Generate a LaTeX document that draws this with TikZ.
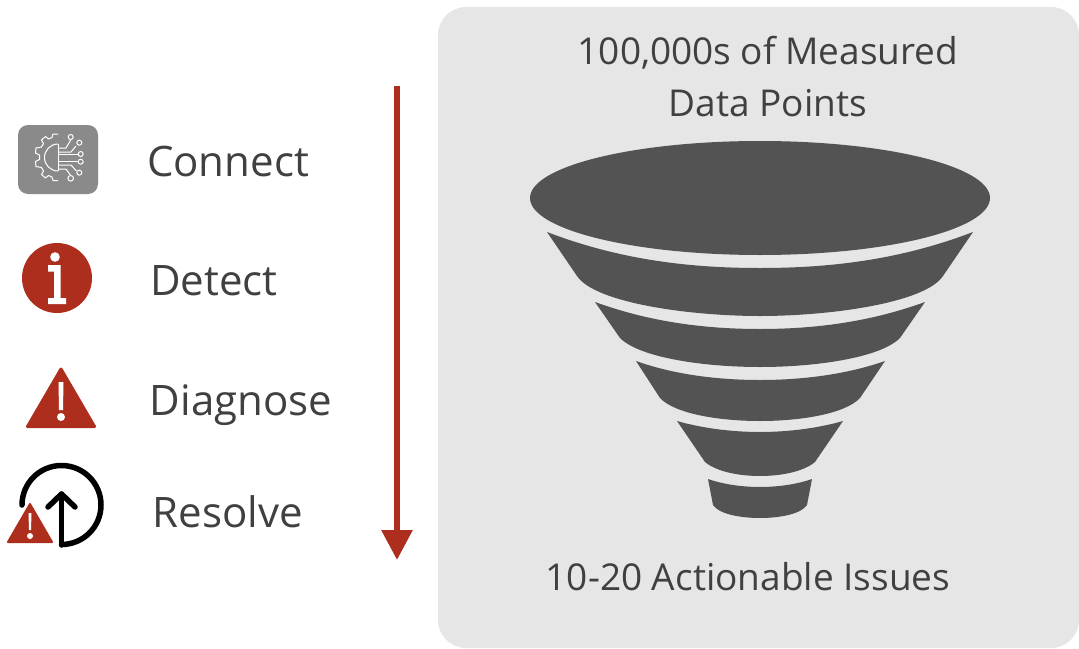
\documentclass[tikz,border=0pt]{standalone}
\usepackage{fontspec}
\setmainfont{Open Sans}
\usetikzlibrary{arrows.meta}
\definecolor{brick}{HTML}{AE2E1E}
\definecolor{panelgrey}{HTML}{E6E6E6}
\definecolor{funnelgrey}{HTML}{535353}
\definecolor{icongrey}{HTML}{8A8A8A}
\definecolor{labelgrey}{HTML}{404040}
\tikzset{
  lbl/.style={font=\fontsize{37}{44}\selectfont, text=labelgrey, anchor=base, inner sep=0pt},
  lblbig/.style={font=\fontsize{42}{50}\selectfont, text=labelgrey, anchor=base, inner sep=0pt},
  band/.style={fill=funnelgrey, draw=none},
  trace/.style={draw=white, line width=1pt},
  pad/.style={draw=white, line width=1pt, fill=icongrey}
}
\begin{document}
\begin{tikzpicture}[x=1pt,y=-1pt]
\useasboundingbox (0,0) rectangle (1079,648);
\fill[white] (0,0) rectangle (1079,648);
% panel
\fill[panelgrey, rounded corners=28pt] (438,7) rectangle (1079,648);
% funnel
\fill[band] (760,198) ellipse [x radius=230, y radius=57];
\fill[band] (547,232) .. controls (620,260) and (690,268) .. (760,268) .. controls (830,268) and (900,260) .. (973,232)
  -- (943,276) .. controls (925,303) and (830,316) .. (760,316) .. controls (690,316) and (595,303) .. (577,276) -- cycle;
\fill[band] (595,302) .. controls (650,322) and (705,329) .. (760,329) .. controls (815,329) and (870,322) .. (925,302)
  -- (900,338) .. controls (880,358) and (815,367) .. (760,367) .. controls (705,367) and (640,358) .. (620,338) -- cycle;
\fill[band] (636,361) .. controls (675,375) and (720,380) .. (760,380) .. controls (800,380) and (845,375) .. (885,361)
  -- (860,398) .. controls (845,414) and (800,421) .. (760,421) .. controls (720,421) and (675,414) .. (660,398) -- cycle;
\fill[band] (677,421) .. controls (705,429) and (735,432) .. (760,432) .. controls (785,432) and (815,429) .. (843,421)
  -- (815,462) .. controls (803,472) and (780,476) .. (760,476) .. controls (740,476) and (717,472) .. (705,462) -- cycle;
\fill[band] (708,479) .. controls (725,485) and (745,487) .. (760,487) .. controls (775,487) and (795,485) .. (812,479)
  -- (807,505) .. controls (800,515) and (777,518) .. (760,518) .. controls (743,518) and (720,515) .. (713,505) -- cycle;
% panel text
\node[lbl] (t1) at (768,64) {100,000s of Measured};
\node[lbl] (t2) at (768,116) {Data Points};
\node[lbl] (t3) at (748,590) {10-20 Actionable Issues};
% left labels
\node[lblbig] (connect) at (228,176) {Connect};
\node[lblbig] (detect) at (214,295) {Detect};
\node[lblbig] (diagnose) at (241,415) {Diagnose};
\node[lblbig] (resolve) at (228,527) {Resolve};
% arrow
\coordinate (arrA) at (397,86);
\coordinate (arrB) at (397,560);
\draw[brick, line width=6pt, -{Triangle[length=30pt,width=30pt]}] (arrA) -- (arrB);
% connect icon
\fill[icongrey, rounded corners=10pt] (18,125) rectangle (98,194);
\draw[white, line width=1pt, line join=round]
  (58,134) -- (53,134) -- (52,137.5) -- (48.5,139) -- (45.5,136.5) -- (41.5,140) -- (43.5,143.5) -- (41.5,147)
  -- (36,148) -- (35.5,153) -- (39.5,155) -- (39.5,159.5) -- (35.5,161.5) -- (36,166.5) -- (41.5,167.5)
  -- (43.5,171) -- (41.5,174.5) -- (45.5,178) -- (48.5,175.5) -- (52,177) -- (53,180.5) -- (58,180.5);
\draw[white, line width=1pt] (58,144) arc[start angle=270, end angle=90, radius=13.5];
\draw[white, line width=1pt] (58,144) -- (58,171);
\draw[trace] (58,148) -- (66,148) -- (70.7,140);
\draw[trace] (58,152) -- (71,152) -- (76,146);
\draw[trace] (58,154) -- (77.7,154);
\draw[trace] (58,161.5) -- (77.7,161.5);
\draw[trace] (58,165) -- (71,165) -- (76.5,171);
\draw[trace] (58,169) -- (66,169) -- (70.7,175.5);
\foreach \px/\py/\pr in {70.7/137/2.5,79.3/142.7/2.5,80.7/154/2.5,80.7/161.7/2.5,79.3/172.7/2.5,70.7/178.3/2.8}
  \filldraw[pad] (\px,\py) circle[radius=\pr];
% detect icon
\fill[brick] (57,278) circle[radius=35];
\fill[white] (55,257) circle[radius=4.8];
\fill[white] (48,265) -- (60.5,265) -- (60.5,298) -- (66,298) -- (66,304) -- (48,304) -- (48,298) -- (54,298) -- (54,271.5) -- (48,271.5) -- cycle;
% diagnose icon
\fill[brick, draw=brick, line width=3pt, line join=round] (61,369) -- (94.5,426.5) -- (27.5,426.5) -- cycle;
\fill[white] (58.5,382) -- (63.5,382) -- (63,410) -- (59,410) -- cycle;
\fill[white] (61,417) circle[radius=4];
% resolve icon
\draw[black, line width=5.5pt, line cap=round] (22,505) arc[start angle=180, end angle=450, radius=39.5];
\draw[black, line width=5.5pt, line cap=round, line join=round] (61.5,545) -- (61.5,494);
\draw[black, line width=5.5pt, line cap=round, line join=round] (48,507) -- (61.5,494) -- (75,507);
\fill[brick, draw=brick, line width=2pt, line join=round] (30,504) -- (52,542) -- (8,542) -- cycle;
\fill[white] (28.5,513) -- (31.5,513) -- (31,530) -- (29,530) -- cycle;
\fill[white] (30,536) circle[radius=3];
\end{tikzpicture}
\end{document}
